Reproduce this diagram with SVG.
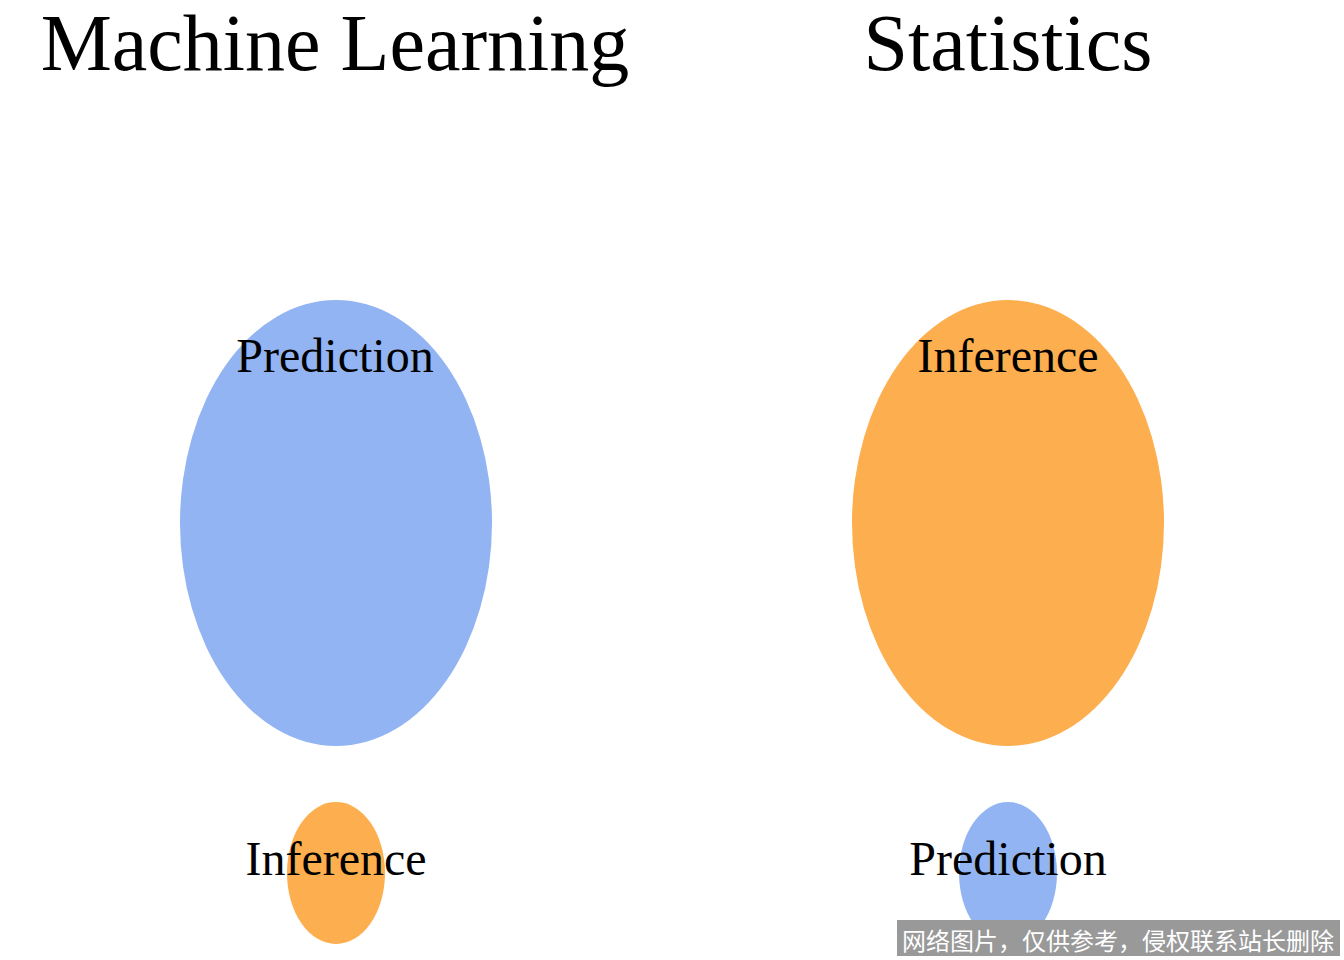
<svg xmlns="http://www.w3.org/2000/svg" width="1344" height="960" viewBox="0 0 1344 960">
<style>
.title{font-family:"Liberation Serif","Times New Roman",serif;font-size:80px;fill:#000;text-anchor:middle}
.lbl{font-family:"Liberation Serif","Times New Roman",serif;font-size:48px;fill:#000;text-anchor:middle}
.blue{fill:#92b4f2}
.orange{fill:#fdae4e}
.wm{font-family:"Noto Sans CJK SC",sans-serif;font-size:24px;fill:#fff}
</style>
<rect width="1344" height="960" fill="#fff"/>
<text class="title" x="335" y="70">Machine Learning</text>
<text class="title" x="1008" y="70">Statistics</text>
<g id="ml-prediction"><ellipse class="blue" cx="336" cy="523" rx="156" ry="223"/><text class="lbl" x="335" y="372">Prediction</text></g>
<g id="ml-inference"><ellipse class="orange" cx="336" cy="873" rx="49" ry="71"/><text class="lbl" x="336" y="875">Inference</text></g>
<g id="st-inference"><ellipse class="orange" cx="1008" cy="523" rx="156" ry="223"/><text class="lbl" x="1008" y="372">Inference</text></g>
<g id="st-prediction"><ellipse class="blue" cx="1008" cy="873" rx="49" ry="71"/><text class="lbl" x="1008" y="875">Prediction</text></g>
<g id="connectors"/>
<g id="watermark"><rect x="897" y="920" width="443" height="36" fill="#999"/><text class="wm" x="902" y="950">网络图片，仅供参考，侵权联系站长删除</text></g>
</svg>
